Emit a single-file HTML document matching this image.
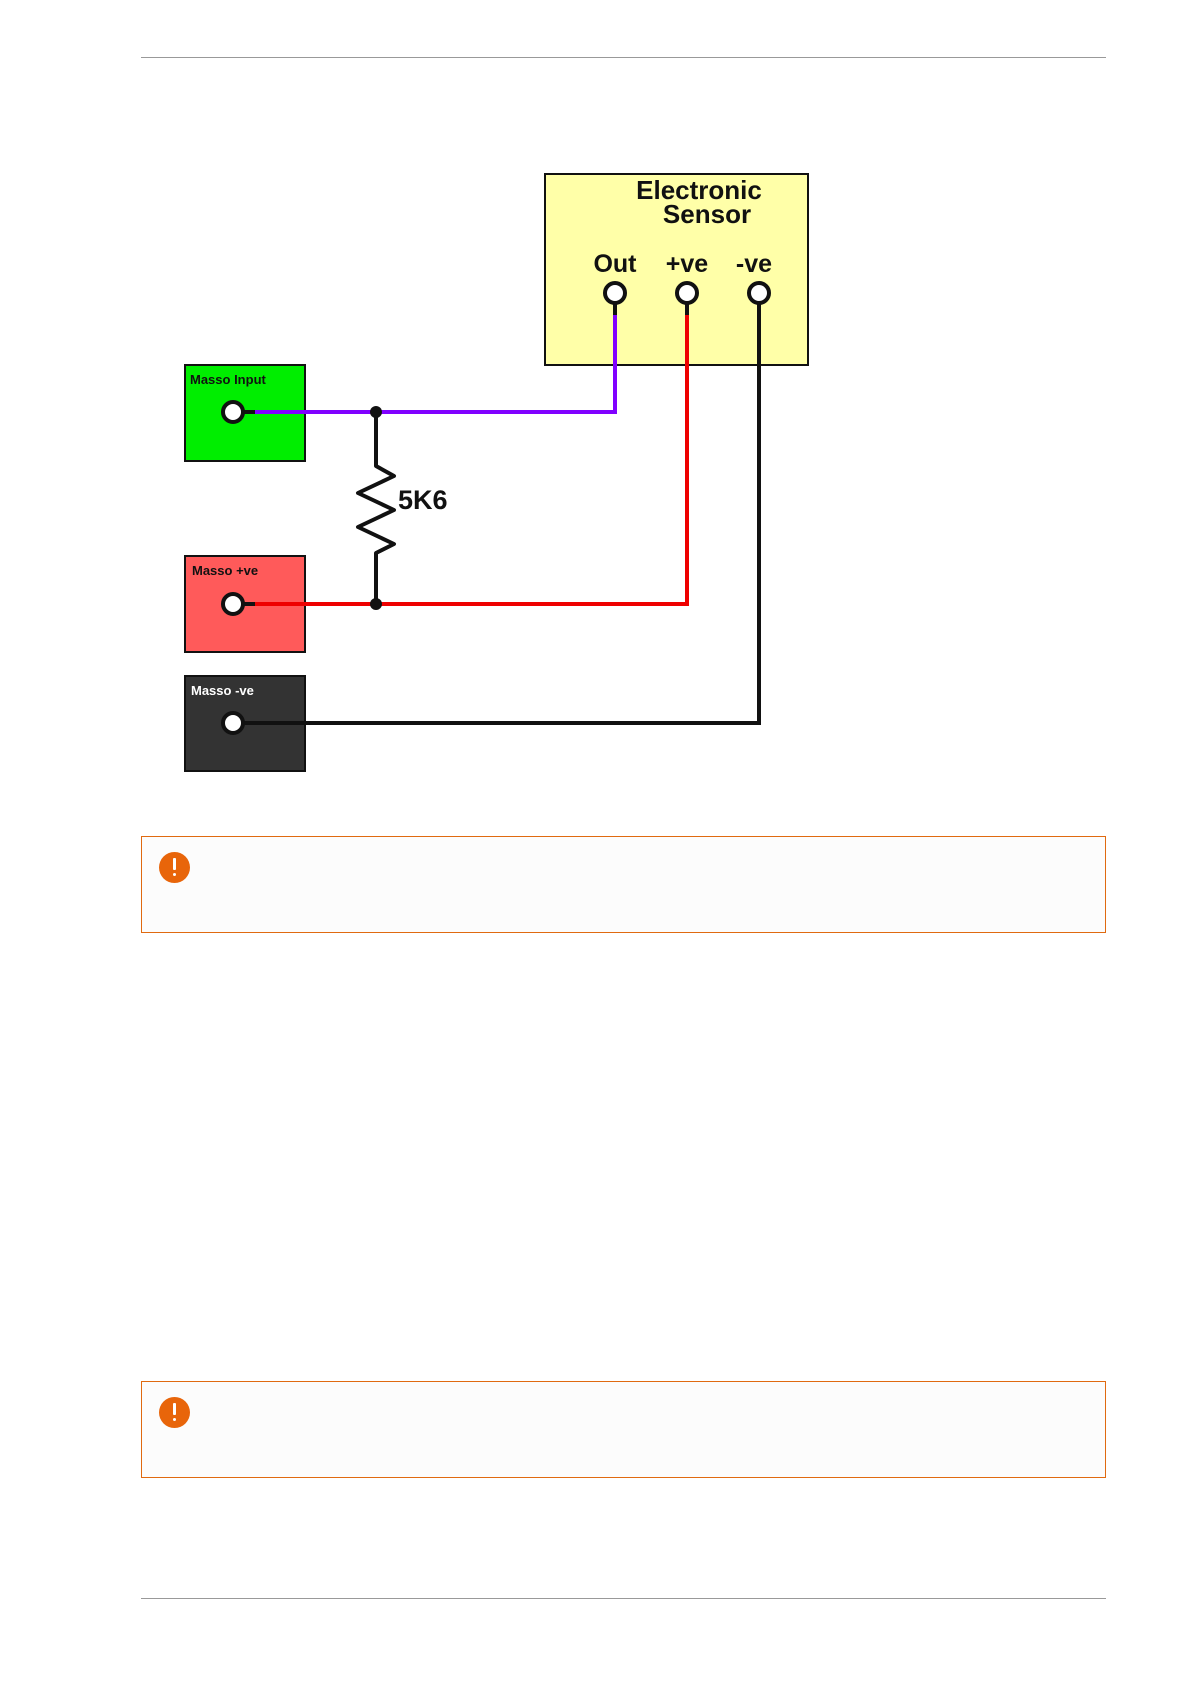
<!DOCTYPE html>
<html><head><meta charset="utf-8"><style>
html,body{margin:0;padding:0;background:#fff;}
body{width:1191px;height:1684px;position:relative;overflow:hidden;font-family:"Liberation Sans",sans-serif;}
.rule{position:absolute;left:141px;width:965px;height:1px;background:#999;}
.alert{position:absolute;left:141px;width:963px;height:95px;border:1.5px solid #e06a10;background:#fcfcfc;}
.icon{position:absolute;left:17px;top:15px;width:31px;height:31px;border-radius:50%;background:#e8650a;}
.icon:before{content:"";position:absolute;left:14px;top:6px;width:3px;height:12px;background:#fff;border-radius:1px;}
.icon:after{content:"";position:absolute;left:14px;top:21px;width:3px;height:3px;background:#fff;border-radius:50%;}
</style></head><body>
<div class="rule" style="top:57px"></div>
<svg width="1191" height="800" style="position:absolute;left:0;top:0" xmlns="http://www.w3.org/2000/svg">
<rect x="545" y="174" width="263" height="191" fill="#ffffa8" stroke="#111" stroke-width="2"/>
<text x="699" y="199" font-family="Liberation Sans" font-weight="bold" font-size="26" text-anchor="middle" fill="#111">Electronic</text>
<text x="707" y="223" font-family="Liberation Sans" font-weight="bold" font-size="26" text-anchor="middle" fill="#111">Sensor</text>
<text x="615" y="272" font-family="Liberation Sans" font-weight="bold" font-size="25" text-anchor="middle" fill="#111">Out</text>
<text x="687" y="272" font-family="Liberation Sans" font-weight="bold" font-size="25" text-anchor="middle" fill="#111">+ve</text>
<text x="754" y="272" font-family="Liberation Sans" font-weight="bold" font-size="25" text-anchor="middle" fill="#111">-ve</text>
<rect x="185" y="365" width="120" height="96" fill="#00ee00" stroke="#111" stroke-width="2"/>
<text x="190" y="384" font-family="Liberation Sans" font-weight="bold" font-size="13" fill="#111">Masso Input</text>
<rect x="185" y="556" width="120" height="96" fill="#ff5a5a" stroke="#111" stroke-width="2"/>
<text x="192" y="575" font-family="Liberation Sans" font-weight="bold" font-size="13" fill="#111">Masso +ve</text>
<rect x="185" y="676" width="120" height="95" fill="#333" stroke="#111" stroke-width="2"/>
<text x="191" y="695" font-family="Liberation Sans" font-weight="bold" font-size="13" fill="#fff">Masso -ve</text>
<polyline points="615,304 615,315" stroke="#111" stroke-width="4" fill="none"/>
<polyline points="687,304 687,315" stroke="#111" stroke-width="4" fill="none"/>
<polyline points="243,412 255,412" stroke="#111" stroke-width="4" fill="none"/>
<polyline points="243,604 255,604" stroke="#111" stroke-width="4" fill="none"/>
<polyline points="255,412 615,412 615,315" stroke="#8000ff" stroke-width="4" fill="none"/>
<polyline points="255,604 687,604 687,315" stroke="#ee0000" stroke-width="4" fill="none"/>
<polyline points="243,723 759,723 759,304" stroke="#111" stroke-width="4" fill="none"/>
<polyline points="376,412 376,466 394,476 358,493 394,510 358,527 394,544 376,553 376,604" stroke="#111" stroke-width="4" fill="none" stroke-linejoin="round"/>
<circle cx="376" cy="412" r="6" fill="#111"/>
<circle cx="376" cy="604" r="6" fill="#111"/>
<text x="398" y="509" font-family="Liberation Sans" font-weight="bold" font-size="27" fill="#111">5K6</text>
<g fill="#fff" stroke="#111" stroke-width="4">
<circle cx="615" cy="293" r="10"/><circle cx="687" cy="293" r="10"/><circle cx="759" cy="293" r="10"/>
<circle cx="233" cy="412" r="10"/><circle cx="233" cy="604" r="10"/><circle cx="233" cy="723" r="10"/>
</g>
</svg>
<div class="alert" style="top:836px"><div class="icon"></div></div>
<div class="alert" style="top:1381px"><div class="icon"></div></div>
<div class="rule" style="top:1598px"></div>
</body></html>
